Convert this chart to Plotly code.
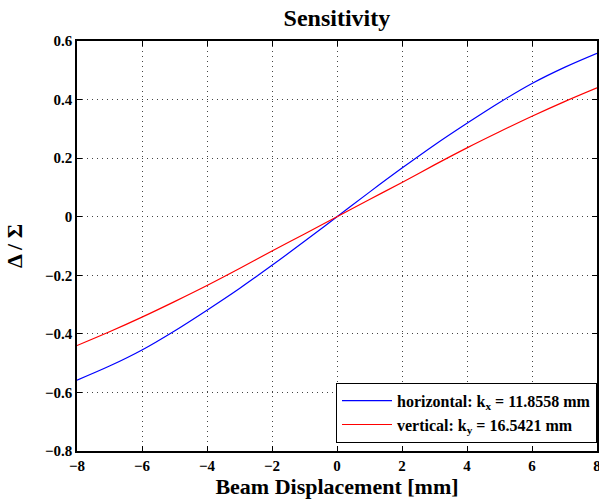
import plotly.graph_objects as go

# beam displacement [mm]
disp = [-8, -7, -6, -5, -4, -3, -2, -1, 0, 1, 2, 3, 4, 5, 6, 7, 8]
# normalized difference-over-sum
horiz = [-0.558, -0.510, -0.455, -0.390, -0.319, -0.245, -0.166, -0.084, 0.0,
         0.084, 0.166, 0.245, 0.319, 0.390, 0.455, 0.510, 0.558]
vert = [-0.440, -0.393, -0.343, -0.290, -0.235, -0.177, -0.117, -0.059, 0.0,
        0.059, 0.117, 0.177, 0.235, 0.290, 0.343, 0.393, 0.440]

x_ticks = [-8, -6, -4, -2, 0, 2, 4, 6, 8]
y_ticks = [-0.8, -0.6, -0.4, -0.2, 0, 0.2, 0.4, 0.6]

font = "Liberation Serif"


def lbl(v, fmt):
    s = fmt.format(v)
    if s.startswith("-"):
        s = "\u2212" + s[1:]
    return "<b>" + s + "</b>"


fig = go.Figure()
fig.add_trace(go.Scatter(x=disp, y=horiz, mode="lines", line=dict(color="#0000ff", width=1.2, shape="spline"),
                         name="<b>horizontal: k<sub>x</sub> = 11.8558 mm</b>"))
fig.add_trace(go.Scatter(x=disp, y=vert, mode="lines", line=dict(color="#ff0000", width=1.2, shape="spline"),
                         name="<b>vertical: k<sub>y</sub> = 16.5421 mm</b>"))

axis_common = dict(showline=True, linecolor="black", linewidth=1.5, mirror="allticks",
                   ticks="inside", ticklen=5, tickcolor="black",
                   showgrid=True, gridcolor="#444444", griddash="1px,4px", gridwidth=1,
                   zeroline=False, automargin=False, ticklabeloverflow="allow",
                   tickfont=dict(family=font, size=15, color="black"))

fig.update_xaxes(range=[-8, 8], tickvals=x_ticks, ticktext=[lbl(v, "{:d}") for v in x_ticks],
                 title=dict(text="<b>Beam Displacement [mm]</b>", font=dict(family=font, size=22, color="black"), standoff=2),
                 **axis_common)
fig.update_yaxes(range=[-0.8, 0.6], tickvals=y_ticks,
                 ticktext=[lbl(v, "{:.1f}") if v != 0 else "<b>0</b>" for v in y_ticks],
                 title=dict(text="<b>Δ / Σ</b>", font=dict(family=font, size=22, color="black"), standoff=16),
                 **axis_common)

fig.update_layout(
    width=599, height=503,
    margin=dict(l=77, r=2, t=41, b=52),
    paper_bgcolor="white", plot_bgcolor="white",
    title=dict(text="<b>Sensitivity</b>", x=0.5625, xanchor="center", y=0.965, yanchor="middle",
               font=dict(family=font, size=24, color="black")),
    font=dict(family=font, color="black"),
    legend=dict(x=1, y=0.02, xanchor="right", yanchor="bottom", bgcolor="white",
                bordercolor="black", borderwidth=1, itemwidth=50,
                font=dict(family=font, size=16, color="black")),
)

fig.write_html("out.html", config={"displayModeBar": False},
               post_script="document.body.style.margin='0';document.body.style.overflow='hidden';")
